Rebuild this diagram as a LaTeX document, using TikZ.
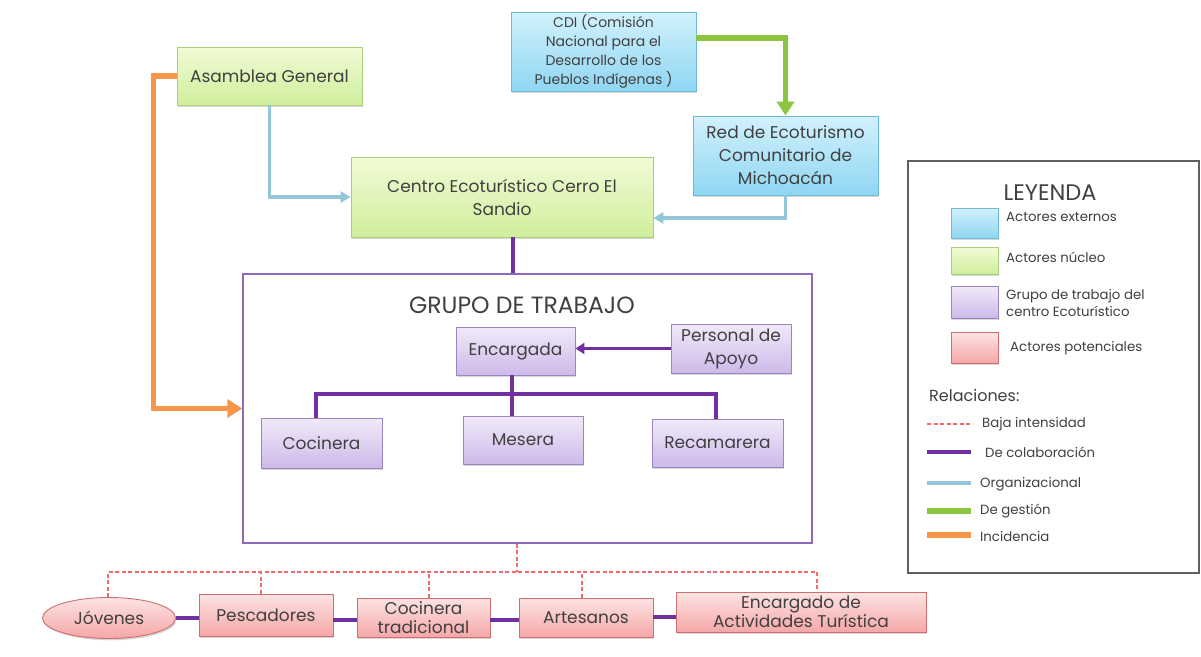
\documentclass[tikz,border=0pt]{standalone}
\usepackage{fontspec}
\setmainfont{Poppins}
\usetikzlibrary{shadows,arrows.meta,calc,shapes.geometric}
\definecolor{txt}{HTML}{404040}
\definecolor{bluet}{HTML}{D2F1FC}
\definecolor{blueb}{HTML}{8FD6F2}
\definecolor{bluebd}{HTML}{6BBCDC}
\definecolor{greent}{HTML}{F2FBD6}
\definecolor{greenb}{HTML}{CFEE9C}
\definecolor{greenbd}{HTML}{A9CF7E}
\definecolor{purt}{HTML}{F1EAF9}
\definecolor{purb}{HTML}{CDB9E9}
\definecolor{purbd}{HTML}{9C84BE}
\definecolor{redt}{HTML}{FDE3E3}
\definecolor{redb}{HTML}{F5A7A7}
\definecolor{redbd}{HTML}{CF6E6E}
\definecolor{colab}{HTML}{7030A0}
\definecolor{orgc}{HTML}{93C6DA}
\definecolor{gestc}{HTML}{8CC63F}
\definecolor{incc}{HTML}{F79646}
\definecolor{bajac}{HTML}{F26B6B}
\definecolor{legbd}{HTML}{5F5F5F}
\definecolor{grbd}{HTML}{8E6BB8}
\tikzset{
  base/.style={draw, inner sep=1pt, align=center, line width=0.9pt,
    drop shadow={shadow xshift=1.2pt, shadow yshift=-1.8pt, opacity=0.3}},
  bluebox/.style={rectangle, base, draw=bluebd, top color=bluet, bottom color=blueb},
  greenbox/.style={rectangle, base, draw=greenbd, top color=greent, bottom color=greenb},
  purbox/.style={rectangle, base, draw=purbd, top color=purt, bottom color=purb},
  redbox/.style={rectangle, base, draw=redbd, top color=redt, bottom color=redb},
  fbig/.style={font=\fontsize{17}{23}\selectfont},
  fsmall/.style={font=\fontsize{14}{19}\selectfont},
  fleg/.style={font=\fontsize{13.3}{17}\selectfont},
  colabline/.style={draw=colab, line width=3.4pt},
  orgline/.style={draw=orgc, line width=3.4pt},
  gestline/.style={draw=gestc, line width=5.5pt},
  incline/.style={draw=incc, line width=5.5pt},
  bajaline/.style={draw=bajac, line width=1.1pt, dash pattern=on 4pt off 2.5pt},
}
\begin{document}
\begin{tikzpicture}[x=1pt,y=-1pt, every node/.style={text=txt}]
\useasboundingbox (0,0) rectangle (1201,656);
\fill[white] (0,0) rectangle (1201,656);

% main boxes
\node[greenbox, fbig, minimum width=185pt, minimum height=58pt] (asam) at (269.5,76) {Asamblea General};
\node[bluebox, fsmall, minimum width=185pt, minimum height=79pt] (cdi) at (603.5,51.5) {CDI (Comisión\\Nacional para el\\Desarrollo de los\\Pueblos Indígenas )};
\node[bluebox, fbig, minimum width=185pt, minimum height=79pt] (red) at (785.5,155.5) {Red de Ecoturismo\\Comunitario de\\Michoacán};
\node[greenbox, fbig, minimum width=302pt, minimum height=80pt] (centro) at (502,197) {Centro Ecoturístico Cerro El\\Sandio};

% grupo de trabajo
\node[draw=grbd, line width=1.5pt, minimum width=569pt, minimum height=269pt, inner sep=0pt] (grupo) at (527.5,408.5) {};
\node[font=\fontsize{23.5}{27}\selectfont] (gtitle) at (522,305) {GRUPO DE TRABAJO};
\node[purbox, fbig, minimum width=119pt, minimum height=48pt] (enc) at (515.5,351) {Encargada};
\node[purbox, fbig, minimum width=120pt, minimum height=49pt] (pers) at (731,348.5) {Personal de\\Apoyo};
\node[purbox, fbig, minimum width=121pt, minimum height=50pt] (coc) at (321.5,443) {Cocinera};
\node[purbox, fbig, minimum width=120pt, minimum height=48pt] (mes) at (523,440) {Mesera};
\node[purbox, fbig, minimum width=131pt, minimum height=48pt] (rec) at (717.5,443) {Recamarera};

% bottom row
\node[ellipse, base, draw=redbd, top color=redt, bottom color=redb, fbig, minimum width=133pt, minimum height=41pt, inner sep=0pt] (jov) at (109,618) {Jóvenes};
\node[redbox, fbig, minimum width=134pt, minimum height=42pt] (pesc) at (266,615) {Pescadores};
\node[redbox, fbig, minimum width=133pt, minimum height=39pt, inner sep=0pt] (coct) at (423.5,617.5) {Cocinera\\[-4pt]tradicional};
\node[redbox, fbig, minimum width=134pt, minimum height=39pt] (art) at (586,617.5) {Artesanos};
\node[redbox, fbig, minimum width=250pt, minimum height=40pt, inner sep=0pt] (act) at (801,612) {Encargado de\\[-4pt]Actividades Turística};

% connectors
\coordinate (cs) at ($(centro.south)+(11,0)$);
\coordinate (es) at ($(enc.south)+(-3.5,0)$);
\coordinate (ce) at ($(centro.east)+(0,21)$);
\coordinate (cd) at ($(cdi.east)+(0,-13.5)$);
\draw[orgline, -{Triangle[length=10pt,width=11pt]}] (asam.south) |- (centro.west);
\draw[orgline, -{Triangle[length=10pt,width=11pt]}] (red.south) |- (ce);
\draw[gestline, -{Triangle[length=14pt,width=17pt]}] (cd) -| (red.north);
\draw[incline, -{Triangle[length=15pt,width=18pt]}] (asam.west) -- ++(-23,0) |- (grupo.west);
\draw[colabline] (cs) -- (cs |- grupo.north);

\draw[colabline, -{Triangle[length=9pt,width=11pt]}] (pers.west) -- (enc.east |- pers.west);
\coordinate (bl) at (316,394);
\coordinate (br) at (716,394);
\draw[colabline] (coc.north -| bl) -- (bl) -- (br) -- (rec.north -| br);
\draw[colabline] (es) -- (es |- mes.north);

% bottom collaboration
\draw[colabline] (jov.east) -- (pesc.west |- jov.east);
\coordinate (p1) at ($(pesc.east)+(0,5)$);
\coordinate (p2) at ($(coct.east)+(0,2.5)$);
\coordinate (p3) at ($(art.east)+(0,-0.5)$);
\draw[colabline] (p1) -- (coct.west |- p1);
\draw[colabline] (p2) -- (art.west |- p2);
\draw[colabline] (p3) -- (act.west |- p3);

% dashed low intensity
\coordinate (dh) at (517,572);
\coordinate (d0) at (108,572);
\coordinate (d1) at (261,572);
\coordinate (d2) at (429,572);
\coordinate (d3) at (582,572);
\coordinate (d4) at (817,572);
\draw[bajaline] (grupo.south -| dh) -- (dh);
\draw[bajaline] (jov.north -| d0) -- (d0) -- (d4) -- (act.north -| d4);
\draw[bajaline] (pesc.north -| d1) -- (d1);
\draw[bajaline] (coct.north -| d2) -- (d2);
\draw[bajaline] (art.north -| d3) -- (d3);

% legend
\node[draw=legbd, line width=1.4pt, minimum width=291pt, minimum height=412pt, inner sep=0pt] (leg) at (1053.5,367) {};
\node[font=\fontsize{22.5}{25}\selectfont] (legt) at (1050,193) {LEYENDA};
\node[bluebox, minimum width=47pt, minimum height=30pt, inner sep=0pt] (lb) at (974.5,223) {};
\node[greenbox, minimum width=47pt, minimum height=27pt, inner sep=0pt] (lg) at (974.5,260.5) {};
\node[purbox, minimum width=47pt, minimum height=32pt, inner sep=0pt] (lp) at (974.5,302) {};
\node[redbox, minimum width=47pt, minimum height=31pt, inner sep=0pt] (lr) at (974.5,347.5) {};
\node[fleg, anchor=west, inner sep=0pt] (lbt) at (1006,217) {Actores externos};
\node[fleg, anchor=west, inner sep=0pt] (lgt) at (1006,257) {Actores núcleo};
\node[fleg, anchor=west, inner sep=0pt, align=left] (lpt) at (1006,303) {Grupo de trabajo del\\centro Ecoturístico};
\node[fleg, anchor=west, inner sep=0pt] (lrt) at (1010,348) {Actores potenciales};
\node[font=\fontsize{16}{19}\selectfont, anchor=west, inner sep=0pt] (rel) at (929,395) {Relaciones:};
\node[fleg, anchor=west, inner sep=0pt] (l1t) at (982,424) {Baja intensidad};
\node[fleg, anchor=west, inner sep=0pt] (l2t) at (985,452) {De colaboración};
\node[fleg, anchor=west, inner sep=0pt] (l3t) at (980,484) {Organizacional};
\node[fleg, anchor=west, inner sep=0pt] (l4t) at (980,511) {De gestión};
\node[fleg, anchor=west, inner sep=0pt] (l5t) at (980,536) {Incidencia};
\coordinate (s1) at (927,424);
\coordinate (s2) at (927,452);
\coordinate (s3) at (927,483);
\coordinate (s4) at (927,511);
\coordinate (s5) at (927,535);
\draw[bajaline] (s1) -- ++(44,0);
\draw[colabline] (s2) -- ++(44,0);
\draw[orgline] (s3) -- ++(44,0);
\draw[gestline] (s4) -- ++(44,0);
\draw[incline] (s5) -- ++(44,0);
\end{tikzpicture}
\end{document}
